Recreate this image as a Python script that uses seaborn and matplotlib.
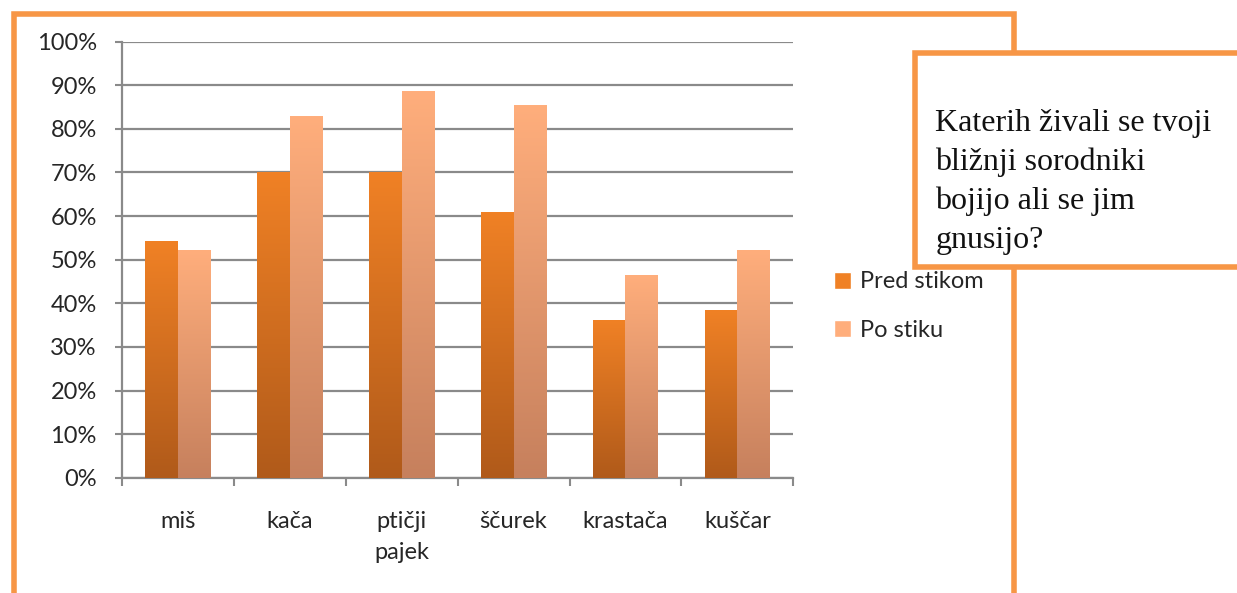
import numpy as np
import pandas as pd
import seaborn as sns
import matplotlib.pyplot as plt
from matplotlib.colors import LinearSegmentedColormap
from matplotlib.patches import Rectangle

# data
animals = ["miš", "kača", "ptičji\npajek", "ščurek", "krastača", "kuščar"]
before = [54.2, 70.1, 70.1, 60.9, 36.1, 38.4]
after = [52.2, 83.0, 88.7, 85.5, 46.6, 52.2]
series = ["Pred stikom", "Po stiku"]
yticks = [0, 10, 20, 30, 40, 50, 60, 70, 80, 90, 100]

df = pd.DataFrame({
    "animal": animals * 2,
    "value": before + after,
    "series": [series[0]] * len(animals) + [series[1]] * len(animals),
})

sns.set_theme(style="white")
plt.rcParams["font.family"] = ["Lato", "DejaVu Sans"]

orange = "#F79646"
grey = "#8A8A8A"
# top / bottom colours of the gradient fills
grads = {
    series[0]: ("#F08125", "#B05A1A"),
    series[1]: ("#FFAE7C", "#C6805D"),
}

fig = plt.figure(figsize=(12.37, 5.93), dpi=100)
ax = fig.add_axes([0.0984, 0.1944, 0.543, 0.7353])

sns.barplot(df, x="animal", y="value", hue="series", hue_order=series,
            palette=[grads[s][0] for s in series], width=0.576, ax=ax,
            legend=False, saturation=1)

# gradient fill for each bar
grad_img = np.linspace(1, 0, 256).reshape(-1, 1)
for cont, s in zip(ax.containers, series):
    cmap = LinearSegmentedColormap.from_list(s, [grads[s][1], grads[s][0]])
    for bar in cont:
        x0, w, h = bar.get_x(), bar.get_width(), bar.get_height()
        im = ax.imshow(grad_img, cmap=cmap, extent=(x0, x0 + w, 0, h),
                       aspect="auto", zorder=3, vmin=0, vmax=1)
        im.set_clip_path(bar)
        bar.set_facecolor("none")
        bar.set_edgecolor("none")

ax.set_xlim(-0.5, 5.5)
ax.set_ylim(0, 100)
ax.set_yticks(yticks)
ax.set_yticklabels([f"{t}%" for t in yticks], fontsize=17)
ax.yaxis.grid(True, color=grey, lw=1.6, zorder=1)
ax.set_axisbelow(True)
ax.set_xticks(range(len(animals)))
ax.set_xticklabels(animals, fontsize=17, linespacing=1.6, va="top")
ax.set_xticks(np.arange(-0.5, 6, 1), minor=True)
ax.tick_params(axis="x", which="major", length=0, pad=24)
ax.tick_params(axis="x", which="minor", length=6, width=1.5, color=grey, bottom=True)
ax.tick_params(axis="y", length=5, width=1.5, color=grey, left=True, pad=13)
ax.set(xlabel="", ylabel="")
for side in ["top", "right"]:
    ax.spines[side].set_visible(False)
for side in ["left", "bottom"]:
    ax.spines[side].set_color(grey)
    ax.spines[side].set_linewidth(1.6)

# legend
handles = [Rectangle((0, 0), 1, 1, facecolor=grads[s][0]) for s in series]
ax.legend(handles, series, loc="center left", bbox_to_anchor=(0.674, 0.484),
          bbox_transform=fig.transFigure, frameon=False, fontsize=17,
          handlelength=0.75, handleheight=0.75, handletextpad=0.35,
          labelspacing=1.15, borderpad=0, borderaxespad=0)

# outer orange frame
fig.patches.append(Rectangle((0.0115, -0.05), 0.8085, 1.027, transform=fig.transFigure,
                             fill=False, edgecolor=orange, lw=4, zorder=0))
# title box
fig.patches.append(Rectangle((0.7395, 0.549), 0.3, 0.362, transform=fig.transFigure,
                             facecolor="white", edgecolor=orange, lw=4, zorder=5))
fig.text(0.756, 0.693, "Katerih živali se tvoji\nbližnji sorodniki\nbojijo ali se jim\ngnusijo?",
         family=["Liberation Serif"], fontsize=23, linespacing=1.42,
         va="center", ha="left", color="#111111", zorder=6)

fig.savefig("out.png", dpi=100)
